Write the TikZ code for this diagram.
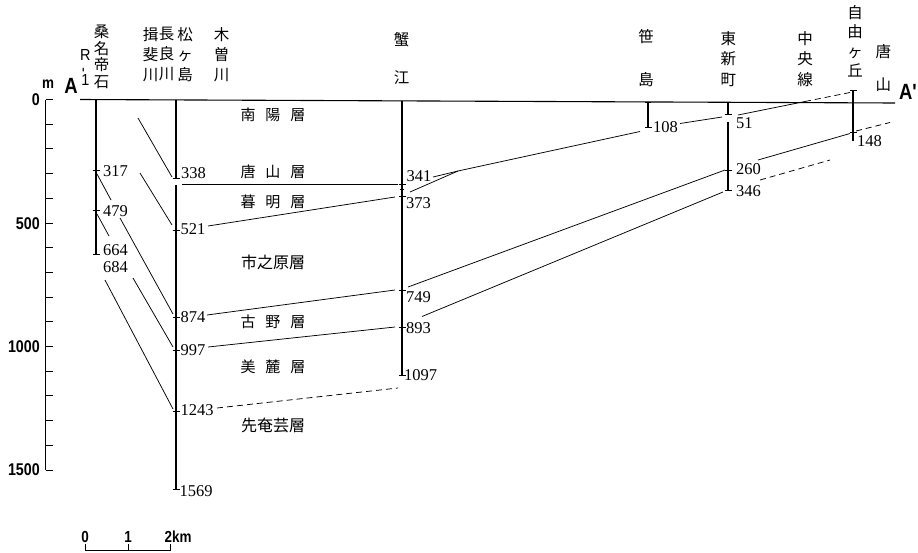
\documentclass[tikz,border=0pt]{standalone}
\usepackage{fontspec}
\setmainfont{Liberation Serif}
\newfontfamily\jpf{Noto Sans CJK JP}
\newfontfamily\sanf[FakeStretch=0.84]{Liberation Sans}
\newfontfamily\rsanf[FakeStretch=0.9]{Liberation Sans}
\begin{document}
\begin{tikzpicture}[x=1pt,y=-1pt,
  col/.style={line width=1.6pt},
  tk/.style={line width=1pt},
  cor/.style={line width=0.75pt},
  dsh/.style={line width=0.75pt, dash pattern=on 6pt off 4pt},
  gnd/.style={line width=1.1pt},
  ax/.style={line width=1pt},
  num/.style={font=\fontsize{16.5}{17}\selectfont, inner sep=0pt, anchor=west},
  vl/.style={font=\jpf\fontsize{15.5}{#1}\selectfont, align=center, inner sep=0pt, anchor=north},
  lay/.style={font=\jpf\fontsize{15}{15}\selectfont, inner sep=0pt},
  axl/.style={font=\sanf\bfseries\fontsize{17}{17}\selectfont, inner sep=0pt, anchor=east},
  sbl/.style={font=\sanf\bfseries\fontsize{16}{16}\selectfont, inner sep=0pt}]
\fill[white] (0,0) rectangle (918,552);
\useasboundingbox (0,0) rectangle (918,552);

% ---- depth axis
\coordinate (axtop) at (45.5,99.5);
\coordinate (axbot) at (45.5,470);
\draw[ax] (axtop) -- (axbot);
\foreach \k in {0,...,15} \draw[ax] (45.5,{99.5+24.7*\k}) -- (53,{99.5+24.7*\k});
\node[axl] (l0) at (40,99.5) {0};
\node[axl] (l500) at (40,223.5) {500};
\node[axl] (l1000) at (40,347) {1000};
\node[axl] (l1500) at (40,470) {1500};
\node[inner sep=0pt, font=\sanf\bfseries\fontsize{16}{16}\selectfont] (lm) at (48,84.5) {m};
\node[font=\sanf\bfseries\fontsize{22}{22}\selectfont, inner sep=0pt] (A) at (71,86) {A};
\node[font=\sanf\bfseries\fontsize{22}{22}\selectfont, inner sep=0pt] (Ap) at (908,92) {A'};

% ---- ground surface
\coordinate (g1) at (80,99.5);
\coordinate (g2) at (895,103);
\draw[gnd] (g1) -- (g2);

% ---- top labels
\node[vl=16.5] (kuwana) at (101.5,25) {桑\\名\\帝\\石};
\node[font=\rsanf\fontsize{16}{12.5}\selectfont, align=center, inner sep=0pt, anchor=north] (r1) at (85.3,49) {R\\\rotatebox{90}{-}\\1};
\node[vl=20] (ibi) at (150.7,27) {揖\\斐\\川};
\node[vl=20] (nagara) at (166.7,27) {長\\良\\川};
\node[vl=20] (matsu) at (185,27) {松\\ヶ\\島};
\node[vl=20] (kiso) at (221.7,27) {木\\曽\\川};
\node[vl=38] (kanie) at (401.7,32) {蟹\\江};
\node[vl=43] (sasa) at (646,29) {笹\\島};
\node[vl=20.5] (higashi) at (728.3,31) {東\\新\\町};
\node[vl=20.5] (chuo) at (805,31) {中\\央\\線};
\node[vl=19.5] (jiyu) at (855,5) {自\\由\\ヶ\\丘};
\node[vl=33] (karayama) at (883.3,44) {唐\\山};

% ---- layer names
\node[lay] (nanyo) at (273,115) {南\hspace{10pt}陽\hspace{10pt}層};
\node[lay] (karas) at (273,171.5) {唐\hspace{10pt}山\hspace{10pt}層};
\node[lay] (kure) at (273,201.5) {暮\hspace{10pt}明\hspace{10pt}層};
\node[lay, font=\jpf\fontsize{16}{16}\selectfont] (ichi) at (273,262.5) {市之原層};
\node[lay] (furu) at (273,321.7) {古\hspace{10pt}野\hspace{10pt}層};
\node[lay] (biroku) at (273,366.7) {美\hspace{10pt}麓\hspace{10pt}層};
\node[lay, font=\jpf\fontsize{16}{16}\selectfont] (sennou) at (273,425) {先奄芸層};

% ---- boreholes
% R-1
\coordinate (R1top) at (96,100);
\coordinate (R1bot) at (96,254);
\draw[col] (R1top) -- (R1bot);
\foreach \y in {170.7,210,254} \draw[tk] (92.5,\y) -- (99.5,\y);
\node[num] (n317) at (103,171.5) {317};
\node[num] (n479) at (103,211) {479};
\node[num] (n664) at (103,250) {664};
\node[num] (n684) at (103,267.5) {684};
% Nagashima column
\coordinate (B2top) at (176,100);
\coordinate (B2a) at (176,178);
\coordinate (B2b) at (176,185);
\coordinate (B2bot) at (176,489);
\draw[col] (B2top) -- (B2a);
\draw[col] (B2b) -- (B2bot);
\foreach \y in {178,230,317,350,411,489} \draw[tk] (172.5,\y) -- (179.5,\y);
\node[num] (n338) at (181,173) {338};
\node[num] (n521) at (180.5,229.5) {521};
\node[num] (n874) at (180.5,317) {874};
\node[num] (n997) at (180.5,350) {997};
\node[num] (n1243) at (180.5,410) {1243};
\node[num] (n1569) at (179.5,491.5) {1569};
% Kanie
\coordinate (B3top) at (402,101);
\coordinate (B3bot) at (402,375);
\draw[col] (B3top) -- (B3bot);
\foreach \y in {184,196,290,327,375} \draw[tk] (398.5,\y) -- (405.5,\y);
\draw[tk] (400,189) -- (404,189);
\node[num] (n341) at (406.5,176) {341};
\node[num] (n373) at (406,202.7) {373};
\node[num] (n749) at (406,297) {749};
\node[num] (n893) at (406,328) {893};
\node[num] (n1097) at (404,375) {1097};
% Sasashima
\coordinate (B4top) at (648,101.5);
\coordinate (B4bot) at (648,127);
\draw[col] (B4top) -- (B4bot);
\draw[tk] (645,127) -- (652,127);
\draw[tk] (645,102) -- (651,102);
\node[num] (n108) at (653,127.5) {108};
% Higashi-shinmachi
\coordinate (B5top) at (728,102);
\coordinate (B5a) at (728,114);
\coordinate (B5b) at (728,122);
\coordinate (B5bot) at (728,190);
\draw[col] (B5top) -- (B5a);
\draw[col] (B5b) -- (B5bot);
\foreach \y in {102,114,170,190} \draw[tk] (724.5,\y) -- (731.5,\y);
\node[num] (n51) at (736,123.5) {51};
\node[num] (n260) at (736,169.5) {260};
\node[num] (n346) at (736,191) {346};
% Jiyugaoka
\coordinate (B6top) at (853,90);
\coordinate (B6bot) at (853,141);
\draw[col] (B6top) -- (B6bot);
\foreach \y in {90,132} \draw[tk] (849.5,\y) -- (856.5,\y);
\node[num] (n148) at (857,141.5) {148};

% ---- correlation lines (left part)
\coordinate (a1) at (138,118);   \coordinate (a2) at (172,177);
\coordinate (b1) at (97,174);    \coordinate (b2) at (111,200);
\coordinate (c1) at (140,173);   \coordinate (c2) at (172,225);
\coordinate (d1) at (97,214);    \coordinate (d2) at (109,236);
\coordinate (e1) at (120,218);   \coordinate (e2) at (173,314);
\coordinate (f1) at (105,280);   \coordinate (f2) at (173,409);
\coordinate (h1) at (133,278);   \coordinate (h2) at (173,347);
\draw[cor] (a1) -- (a2);
\draw[cor] (b1) -- (b2);
\draw[cor] (c1) -- (c2);
\draw[cor] (d1) -- (d2);
\draw[cor] (e1) -- (e2);
\draw[cor] (f1) -- (f2);
\draw[cor] (h1) -- (h2);

% ---- Nagashima to Kanie
\coordinate (k1) at (182,184);   \coordinate (k2) at (398,184);
\coordinate (m1) at (208,226);   \coordinate (m2) at (395,197);
\coordinate (p1) at (207,315);   \coordinate (p2) at (395,290);
\coordinate (q1) at (208,347);   \coordinate (q2) at (395,327);
\coordinate (s1) at (217,408);   \coordinate (s2) at (398,388);
\draw[cor] (k1) -- (k2);
\draw[cor] (m1) -- (m2);
\draw[cor] (p1) -- (p2);
\draw[cor] (q1) -- (q2);
\draw[dsh] (s1) -- (s2);

% ---- Kanie to the east
\coordinate (t1) at (433,177);
\coordinate (t2) at (410,192);
\coordinate (tj) at (458,171);
\coordinate (t3) at (640,131.5);
\draw[cor] (t1) -- (tj);
\draw[cor] (t2) -- (tj) -- (t3);
\coordinate (u1) at (680,123.5); \coordinate (u2) at (722,117);
\draw[cor] (u1) -- (u2);
\coordinate (v1) at (738,115);   \coordinate (v2) at (805,101.5); \coordinate (v3) at (850,92.5);
\draw[cor] (v1) -- (v2);
\draw[dsh] (v2) -- (v3);
\coordinate (w1) at (408,287);   \coordinate (w2) at (725,170);
\draw[cor] (w1) -- (w2);
\coordinate (x1) at (758,160);   \coordinate (x2) at (850,133.5);
\draw[cor] (x1) -- (x2);
\coordinate (y1) at (856,131);   \coordinate (y2) at (890,122.5);
\draw[dsh] (y1) -- (y2);
\coordinate (z1) at (422,316.5); \coordinate (z2) at (723,192);
\draw[cor] (z1) -- (z2);
\coordinate (zz1) at (760,180);  \coordinate (zz2) at (830,160);
\draw[dsh] (zz1) -- (zz2);

% ---- scale bar
\coordinate (sb0) at (85,550);
\coordinate (sb1) at (128,550);
\coordinate (sb2) at (170.7,550);
\draw[ax] (85,544) -- (sb0) -- (sb2) -- (170.7,544);
\draw[ax] (sb1) -- (128,544);
\node[sbl] (s0) at (85,536.5) {0};
\node[sbl] (s1) at (128,536.5) {1};
\node[sbl, anchor=west] (s2) at (164.5,536.5) {2km};
\end{tikzpicture}
\end{document}
